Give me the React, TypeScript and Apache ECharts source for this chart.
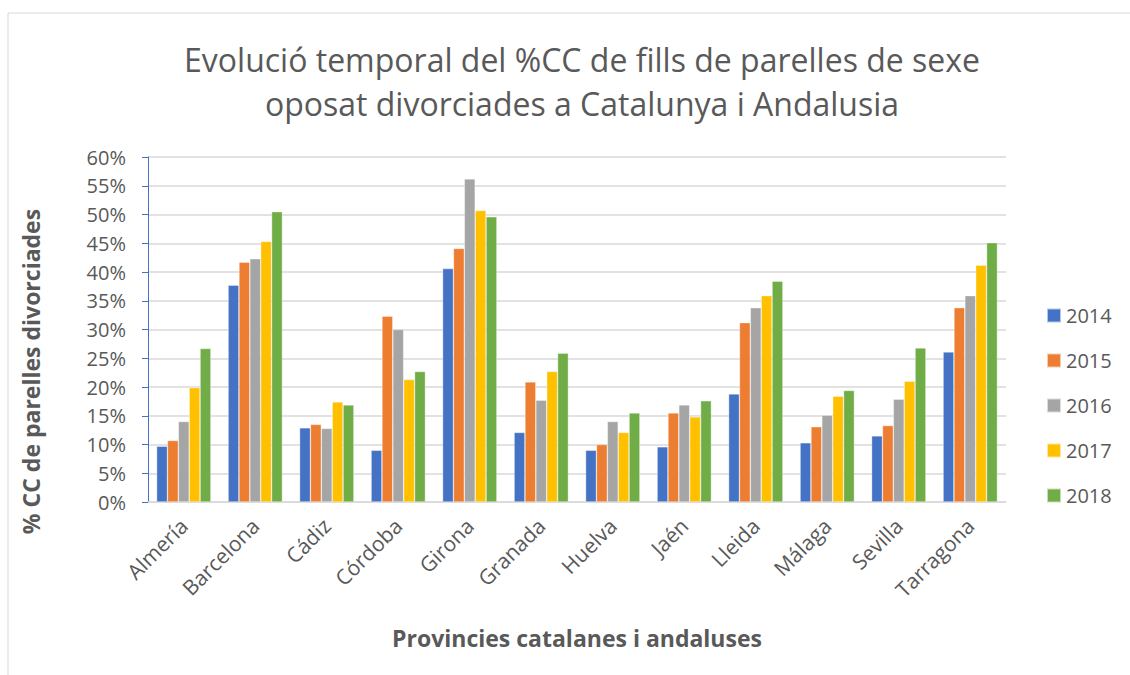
import React, { useEffect, useRef } from "react";
import * as echarts from "echarts";

const categories = ["Almería", "Barcelona", "Cádiz", "Córdoba", "Girona", "Granada", "Huelva", "Jaén", "Lleida", "Málaga", "Sevilla", "Tarragona"];
const years = ["2014", "2015", "2016", "2017", "2018"];
const v2014 = [9.7, 37.7, 12.9, 9.0, 40.6, 12.1, 9.0, 9.6, 18.8, 10.3, 11.5, 26.1];
const v2015 = [10.7, 41.7, 13.5, 32.3, 44.1, 20.9, 10.0, 15.5, 31.2, 13.1, 13.3, 33.8];
const v2016 = [14.0, 42.3, 12.8, 30.0, 56.2, 17.7, 14.0, 16.9, 33.8, 15.1, 17.9, 35.9];
const v2017 = [19.9, 45.3, 17.4, 21.3, 50.7, 22.7, 12.1, 14.8, 35.9, 18.4, 21.0, 41.2];
const v2018 = [26.7, 50.5, 16.9, 22.7, 49.6, 25.9, 15.5, 17.6, 38.4, 19.4, 26.8, 45.1];
const colors = ["#4472C4", "#ED7D31", "#A5A5A5", "#FFC000", "#70AD47"];

const FONT = "'Open Sans', Lato, sans-serif";
const GRAY = "#595959";

export default function App() {
  const ref = useRef<HTMLDivElement>(null);
  useEffect(() => {
    if (!ref.current) return;
    const chart = echarts.init(ref.current, null, { renderer: "svg" });
    const all = [v2014, v2015, v2016, v2017, v2018];
    chart.setOption({
      animation: false,
      backgroundColor: "#fff",
      textStyle: { fontFamily: FONT },
      graphic: [
        {
          type: "rect",
          shape: { x: 8, y: 13, width: 1140, height: 700 },
          style: { fill: "none", stroke: "#d9d9d9", lineWidth: 1 },
          silent: true,
        },
      ],
      title: {
        text: "Evolució temporal del %CC de fills de parelles de sexe\noposat divorciades a Catalunya i Andalusia",
        left: 577,
        textAlign: "center",
        top: 32,
        textStyle: { fontFamily: FONT, fontSize: 32, fontWeight: "normal", color: GRAY, lineHeight: 44 },
      },
      legend: {
        orient: "vertical",
        left: 1041,
        top: 297,
        itemWidth: 14,
        itemHeight: 14,
        itemGap: 18,
        icon: "rect",
        data: years,
        textStyle: { fontFamily: FONT, fontSize: 20, color: GRAY, lineHeight: 27 },
      },
      grid: { left: 148, right: 124, top: 157, bottom: 173 },
      xAxis: {
        type: "category",
        data: categories,
        name: "Provincies catalanes i andaluses",
        nameLocation: "middle",
        nameGap: 124,
        nameTextStyle: { fontFamily: FONT, fontSize: 23, fontWeight: "bold", color: GRAY },
        axisLine: { lineStyle: { color: "#d9d9d9", width: 1.5 } },
        axisTick: { show: false },
        axisLabel: { rotate: 45, fontSize: 21, color: GRAY, margin: 20, interval: 0 },
      },
      yAxis: {
        type: "value",
        min: 0,
        max: 60,
        interval: 5,
        name: "% CC de parelles divorciades",
        nameLocation: "middle",
        nameGap: 106,
        nameTextStyle: { fontFamily: FONT, fontSize: 23, fontWeight: "bold", color: GRAY, padding: [0, 84, 0, 0] },
        axisLine: { show: true, lineStyle: { color: "#4472C4", width: 1 } },
        axisTick: { show: true, inside: false, length: 6, lineStyle: { color: "#4472C4" } },
        axisLabel: { formatter: "{value}%", fontSize: 20, color: GRAY, margin: 22 },
        splitLine: { lineStyle: { color: "#d9d9d9", width: 1.5 } },
      },
      series: years.map((y, i) => ({
        name: y,
        type: "bar",
        data: all[i],
        barGap: "0%",
        barCategoryGap: "24%",
        itemStyle: { color: colors[i], borderColor: "rgba(255,255,255,0.6)", borderWidth: 0.6 },
      })),
    });
    return () => chart.dispose();
  }, []);
  return <div ref={ref} style={{ position: "fixed", left: 0, top: 0, width: 1130, height: 675 }} />;
}
